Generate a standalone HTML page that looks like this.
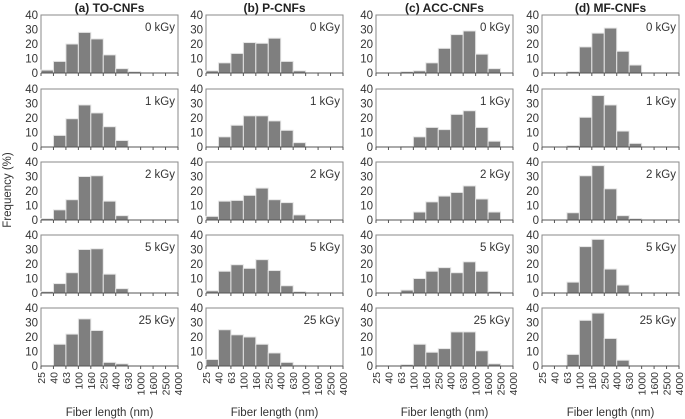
<!DOCTYPE html>
<html><head><meta charset="utf-8">
<style>
body{margin:0;background:#fff;}
svg{display:block;font-family:"Liberation Sans",Arial,sans-serif;}
</style></head>
<body>
<svg id="chart" width="685" height="419" viewBox="0 0 685 419"></svg>
<script>
const binLabels = ["25","40","63","100","160","250","400","630","1000","1600","2500","4000"];
const doses = ["0 kGy","1 kGy","2 kGy","5 kGy","25 kGy"];
const panelTitles = ["(a) TO-CNFs","(b) P-CNFs","(c) ACC-CNFs","(d) MF-CNFs"];
const yTicks = [0,10,20,30,40];
const toCNF = [
 [2,8,20,28,23.5,12.5,3,1,0,0,0],
 [0,8,19.5,29,23.5,14,4.5,0,0,0,0],
 [1,7,14,30,30.5,13,3,0,0,0,0],
 [1,6.5,14,30,30.5,13,3,0,0,0,0],
 [0,15,22,32.5,24.5,2.5,1.5,0,0,0,0]];
const pCNF = [
 [1.5,7,13.5,21,20.5,24,8,1.5,0,0,0],
 [0,7,15,21.5,21.5,18,11.5,3,0,0,0],
 [2.5,13,13.5,17,22,14,12,3.5,0,0,0],
 [1.5,15,19.5,17,23,15.5,5,1,0,0,0],
 [4.5,25,21.5,20,15,9,2.5,0.5,0,0,0]];
const accCNF = [
 [0,0,1,1.5,7,17,26.5,29,13,3,0],
 [0,0,0.3,7,13.5,12,22.5,25,13.5,4,0],
 [0,0,0,5.5,12.5,16.5,19,23.5,14.5,5.5,0],
 [0,0,2,10,15,17.5,14,21.5,15,1,0],
 [0,0,1,15,9.5,12,23.5,23.5,10.5,1.5,0]];
const mfCNF = [
 [0,0,1,18,27.5,31,15,5.5,0,0,0],
 [0,0,1,20.5,35.5,29,11,2.5,0,0,0],
 [0,0,5,30.5,37.5,21.5,3,1,0,0,0],
 [0,0,7.5,32,37,16.5,5.5,0,0,0,0],
 [0,0,8,31.5,36.5,19,4,0,0,0,0]];
const allData = [toCNF,pCNF,accCNF,mfCNF];

const NS="http://www.w3.org/2000/svg";
const svg=document.getElementById('chart');
function mk(tag,attrs,parent){const e=document.createElementNS(NS,tag);for(const k in attrs)e.setAttribute(k,attrs[k]);(parent||svg).appendChild(e);return e;}

const colLeft=[41,206,376,542], plotW=137;
const rowTop=[15,89,162,235,308], plotH=58;
const nBins=binLabels.length-1;

for(let c=0;c<4;c++){
  const x0=colLeft[c];
  const xs=i=>x0+i*plotW/nBins;
  const t=mk('text',{x:x0+plotW/2,y:12,'text-anchor':'middle','font-size':12,'font-weight':'bold',fill:'#222'});
  
  
  t.textContent=panelTitles[c];
  for(let r=0;r<5;r++){
    const y0=rowTop[r], yb=y0+plotH;
    const ys=v=>yb-v/40*plotH;
    const g=mk('g',{});
    
    
    mk('rect',{x:x0,y:y0,width:plotW,height:plotH,fill:'#fff',stroke:'#8a8a8a','stroke-width':1},g);
    allData[c][r].forEach((v,i)=>{
      if(v<=0)return;
      const b=mk('rect',{x:xs(i),y:ys(v),width:plotW/nBins,height:yb-ys(v),fill:'#7f7f7f',stroke:'#e6e6e6','stroke-width':1},g);
      
      
    });
    mk('line',{x1:x0,x2:x0+plotW,y1:yb,y2:yb,stroke:'#555','stroke-width':1},g);
    for(let i=0;i<=nBins;i++) mk('line',{x1:xs(i),x2:xs(i),y1:yb,y2:yb+3,stroke:'#555','stroke-width':1},g);
    yTicks.forEach(v=>{
      const tt=mk('text',{x:x0-3,y:ys(v)+4,'text-anchor':'end','font-size':11.5,fill:'#333'},g);
      tt.textContent=v;
    });
    const dl=mk('text',{x:x0+plotW-3,y:y0+16,'text-anchor':'end','font-size':11.5,fill:'#333'},g);
    
    
    dl.textContent=doses[r];
    if(r===4){
      binLabels.forEach((l,i)=>{
        const tl=mk('text',{x:0,y:0,'text-anchor':'end','font-size':10.5,fill:'#333',transform:`translate(${xs(i)+4},${yb+6}) rotate(-90)`},g);
        
        
        tl.textContent=l;
      });
      const xt=mk('text',{x:x0+plotW/2,y:416,'text-anchor':'middle','font-size':11.5,fill:'#333'},g);
      
      
      xt.textContent='Fiber length (nm)';
    }
  }
}
const yt=mk('text',{x:0,y:0,'text-anchor':'middle','font-size':11.5,fill:'#333',transform:'translate(11,190) rotate(-90)'});


yt.textContent='Frequency (%)';
</script>
</body></html>
